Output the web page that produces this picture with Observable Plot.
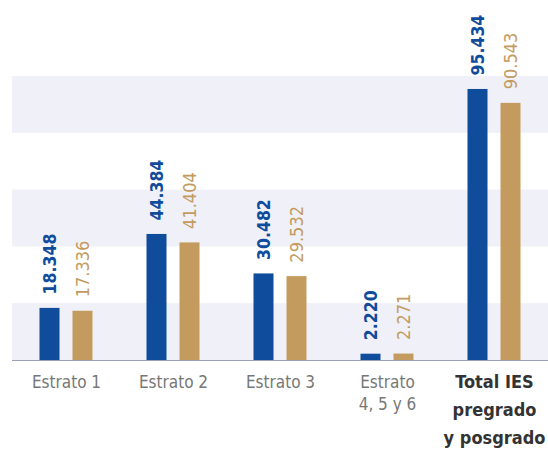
<!DOCTYPE html>
<html>
<head>
<meta charset="utf-8">
<script src="https://cdn.jsdelivr.net/npm/d3@7"></script>
<script src="https://cdn.jsdelivr.net/npm/@observablehq/plot@0.6"></script>
<style>
  html, body { margin: 0; padding: 0; background: #fff; }
  #chart svg { display: block; }
</style>
</head>
<body>
<div id="chart"></div>
<script>
const categories = ["Estrato 1", "Estrato 2", "Estrato 3", "Estrato\n4, 5 y 6", "Total IES\npregrado\ny posgrado"];
const seriesA = [18348, 44384, 30482, 2220, 95434];   // blue
const seriesB = [17336, 41404, 29532, 2271, 90543];   // tan
const yTicks = [0, 20000, 40000, 60000, 80000, 100000];

const blue = "#0f4c9c";
const tan = "#c39b5e";
const fmt = v => d3.format(",")(v).replace(/,/g, ".");

const rowsA = categories.map((c, i) => ({cat: c, value: seriesA[i]}));
const rowsB = categories.map((c, i) => ({cat: c, value: seriesB[i]}));
const bands = [];
for (let i = 0; i + 1 < yTicks.length; i += 2) bands.push({y1: yTicks[i], y2: yTicks[i + 1]});

const off = 16.5;
const font = "'DejaVu Sans Condensed', 'DejaVu Sans', sans-serif";
const normalCats = categories.slice(0, 4).map(c => ({cat: c}));
const boldCats = categories.slice(4).map(c => ({cat: c}));

const chart = Plot.plot({
  width: 548,
  height: 450,
  marginLeft: 12,
  marginRight: 0,
  marginTop: 76,
  marginBottom: 90,
  style: {fontFamily: font, fontStretch: "condensed", background: "#fff"},
  x: {domain: categories, paddingInner: 0.8134, paddingOuter: 0.4067, axis: null},
  y: {domain: [0, 100000], axis: null},
  marks: [
    Plot.rectY(bands, {y1: "y1", y2: "y2", fill: "#eff0f8"}),
    Plot.ruleY([0], {stroke: "#9aa0b3", strokeWidth: 1.2}),
    Plot.barY(rowsA, {x: "cat", y: "value", fill: blue, dx: -off}),
    Plot.barY(rowsB, {x: "cat", y: "value", fill: tan, dx: off}),
    Plot.text(rowsA, {x: "cat", y: "value", text: d => fmt(d.value), rotate: -90, textAnchor: "start",
      dx: -off, dy: -14, fill: blue, fontSize: 17.5, fontWeight: "bold"}),
    Plot.text(rowsB, {x: "cat", y: "value", text: d => fmt(d.value), rotate: -90, textAnchor: "start",
      dx: off, dy: -14, fill: tan, fontSize: 18}),
    Plot.text(normalCats, {x: "cat", text: "cat", frameAnchor: "bottom", lineAnchor: "top", dy: 12,
      fill: "#777", fontSize: 17, lineHeight: 1.3}),
    Plot.text(boldCats, {x: "cat", text: "cat", frameAnchor: "bottom", lineAnchor: "top", dy: 8,
      fill: "#333", fontSize: 18, fontWeight: "bold", lineHeight: 1.55})
  ]
});
document.getElementById("chart").appendChild(chart);
</script>
</body>
</html>
